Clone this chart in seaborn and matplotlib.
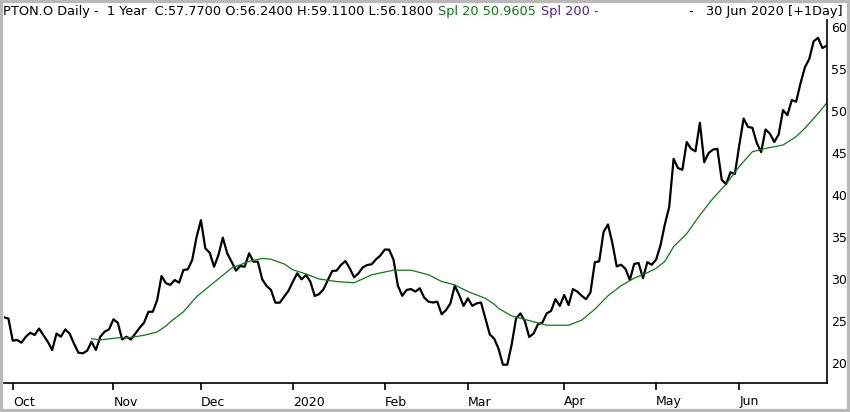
import numpy as np
import pandas as pd
import matplotlib
matplotlib.use("Agg")
import matplotlib.pyplot as plt
import seaborn as sns
from matplotlib.patches import Rectangle

# Daily closes, trading-day index 0 = first bar on the chart
close = [
    25.44, 25.3, 22.66, 22.74, 22.42, 23.13, 23.6, 23.33, 24.1, 23.33,
    22.54, 21.55, 23.5, 23.13, 24.0, 23.5, 22.3, 21.23, 21.15, 21.46,
    22.54, 21.55, 23.13, 23.73, 24.0, 25.2, 24.8, 22.8, 23.13, 22.8,
    23.5, 24.2, 24.8, 26.1, 26.1, 27.5, 30.36, 29.5, 29.3, 29.88,
    29.56, 31.07, 31.15, 32.26, 35.0, 37.0, 33.65, 33.13, 31.46, 32.86,
    34.92, 33.06, 32.06, 31.0, 31.55, 31.46, 33.06, 32.06, 32.06, 29.96,
    29.17, 28.7, 27.18, 27.18, 27.9, 28.6, 29.68, 30.68, 29.96, 30.48,
    29.68, 27.98, 28.2, 28.77, 29.88, 30.95, 31.0, 31.67, 32.14, 31.27,
    30.2, 30.68, 31.39, 31.67, 31.75, 32.34, 32.8, 33.5, 33.5, 32.3,
    29.2, 28.0, 28.7, 28.8, 28.5, 28.9, 27.8, 27.3, 27.2, 27.3,
    25.8, 26.3, 27.1, 29.2, 28.1, 26.8, 27.7, 26.8, 27.1, 27.2,
    25.3, 23.4, 22.9, 21.7, 19.8, 19.8, 22.2, 25.3, 25.9, 25.0,
    23.1, 23.5, 24.6, 24.8, 25.9, 26.2, 27.6, 26.8, 28.1, 26.9,
    28.8, 28.5, 28.0, 27.6, 28.4, 32.0, 32.1, 35.6, 36.5, 34.3,
    31.5, 31.7, 31.2, 29.9, 31.8, 31.9, 30.1, 32.0, 31.7, 32.3,
    34.0, 36.5, 38.6, 44.3, 43.2, 43.0, 46.3, 45.5, 45.2, 48.6,
    43.9, 45.0, 45.4, 45.5, 41.8, 41.3, 42.7, 42.5, 45.9, 49.1,
    48.1, 48.0, 46.2, 45.1, 47.8, 47.3, 46.3, 47.2, 50.1, 49.5,
    51.3, 51.1, 53.3, 55.2, 56.2, 58.3, 58.7, 57.5, 57.77,
]

# Spl 20 values
sma_idx = [20, 22, 26, 29, 32, 35, 37, 38, 41, 44, 48, 52, 56, 59, 61, 64,
           66, 69, 72, 76, 80, 84, 89, 93, 97, 100, 103, 106, 110, 112, 113,
           116, 120, 124, 129, 132, 135, 138, 141, 144, 147, 149, 151, 153,
           156, 159, 162, 165, 168, 171, 174, 178, 181, 183, 186, 188]
sma_vals = [22.9, 22.75, 23.0, 23.05, 23.3, 23.7, 24.4, 24.9, 26.1, 27.9,
            29.6, 31.3, 32.1, 32.45, 32.35, 31.8, 31.1, 30.6, 30.0, 29.7,
            29.55, 30.5, 31.05, 31.05, 30.5, 29.7, 29.3, 28.5, 27.7, 27.0,
            26.5, 25.6, 25.05, 24.5, 24.5, 25.1, 26.4, 28.0, 29.2, 30.1,
            30.75, 31.27, 32.1, 33.85, 35.4, 37.6, 39.6, 41.3, 43.4, 45.15,
            45.55, 45.95, 46.95, 47.95, 49.7, 50.96]

month_pos = [2, 25, 45, 66, 87, 106, 128, 149, 168]
month_labels = ["Oct", "Nov", "Dec", "2020", "Feb", "Mar", "Apr", "May", "Jun"]
price_ticks = [20, 25, 30, 35, 40, 45, 50, 55, 60]

price = pd.DataFrame({"day": np.arange(len(close)), "close": close})
sma = pd.DataFrame({"day": sma_idx, "spl20": sma_vals})

sns.set_style("white")
plt.rcParams["font.family"] = ["DejaVu Sans"]

W, H = 850, 412
fig = plt.figure(figsize=(W / 100, H / 100), dpi=100)
ax = fig.add_axes([4 / W, 29 / H, 823 / W, 363 / H])

sns.lineplot(data=price, x="day", y="close", ax=ax, color="black", linewidth=1.6)
sns.lineplot(data=sma, x="day", y="spl20", ax=ax, color="#0b7a14", linewidth=0.9)

ax.set_xlim(0, 188.05)
ax.set_ylim(17.62, 60.83)
ax.set_xlabel("")
ax.set_ylabel("")

for s in ["left", "top"]:
    ax.spines[s].set_visible(False)
for s in ["bottom", "right"]:
    ax.spines[s].set_color("black")
    ax.spines[s].set_linewidth(1.2)

ax.set_xticks(month_pos)
ax.set_xticklabels(month_labels, ha="left")
ax.tick_params(axis="x", direction="out", length=5, width=1.2, pad=4,
               labelsize=9, colors="black", bottom=True)
ax.yaxis.tick_right()
ax.set_yticks(price_ticks)
ax.tick_params(axis="y", length=0, pad=3, labelsize=9, colors="black")
for lbl in ax.get_yticklabels():
    lbl.set_horizontalalignment("left")

# header line with coloured pieces
pieces = [
    ("PTON.O Daily -  1 Year  C:57.7700 O:56.2400 H:59.1100 L:56.1800", "black"),
    ("Spl 20 50.9605", "#0b7a14"),
    ("Spl 200 -", "#4b2590"),
]
fig.canvas.draw()
r = fig.canvas.get_renderer()
xpx = 3
for txt, col in pieces:
    t = fig.text(xpx / W, 1 - 12 / H, txt, color=col, fontsize=9.3, va="center", ha="left")
    bb = t.get_window_extent(renderer=r)
    xpx = bb.x1 + 5
fig.text(843 / W, 1 - 12 / H, "-   30 Jun 2020 [+1Day]", color="black",
         fontsize=9.3, va="center", ha="right")

fig.patches.append(Rectangle((0, 0), 1, 1, transform=fig.transFigure, fill=False,
                             edgecolor="#b8b8b8", linewidth=4.5))

fig.savefig("out.png", dpi=100)
